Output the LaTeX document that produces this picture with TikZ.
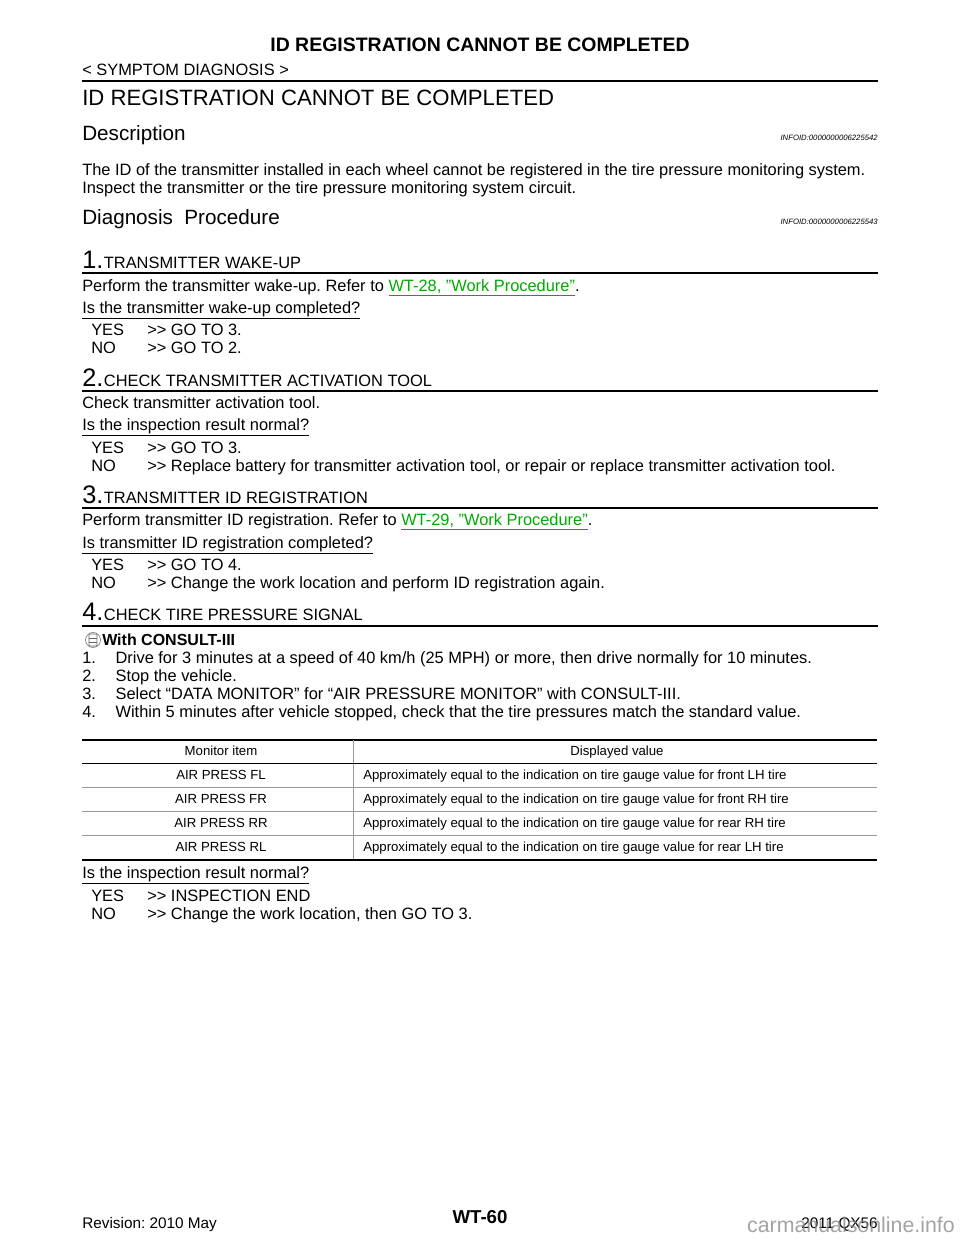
\documentclass[tikz,border=0pt]{standalone}
\usepackage{fontspec}
\setmainfont{Liberation Sans}
\usepackage{xcolor}
\definecolor{lnk}{RGB}{0,170,0}
\frenchspacing
\newcommand{\gtgt}{{>}{>}}
\begin{document}
\begin{tikzpicture}[x=0.75pt,y=-0.75pt,
  txt/.style={anchor=base west,inner sep=0,font=\fontsize{12.3}{14}\selectfont},
  small/.style={anchor=base west,inner sep=0,font=\fontsize{9.9}{11}\selectfont},
  tsmall/.style={anchor=base,inner sep=0,font=\fontsize{9.9}{11}\selectfont},
  head/.style={anchor=base west,inner sep=0,font=\fontsize{15.5}{17}\selectfont},
  stepnum/.style={anchor=base west,inner sep=0,font=\fontsize{19}{20}\selectfont},
  steptitle/.style={anchor=base west,inner sep=0,font=\fontsize{12.3}{14}\selectfont},
  info/.style={anchor=base east,inner sep=0,font=\fontsize{5.8}{6}\selectfont\itshape},
  rule/.style={line width=0.9pt},
  trule/.style={line width=0.4pt,black!40}]
\useasboundingbox (0,0) rectangle (960,1242);
\fill[white] (0,0) rectangle (960,1242);
% header
\node[anchor=base,inner sep=0,font=\fontsize{14.6}{16}\selectfont\bfseries] (ttl) at (480,51) {ID REGISTRATION CANNOT BE COMPLETED};
\node[txt] (sd) at (82,75) {< SYMPTOM DIAGNOSIS >};
\draw[line width=1.4pt] (82,81) -- (878,81);
\node[anchor=base west,inner sep=0,font=\fontsize{16.6}{18}\selectfont] (h1) at (82,105) {ID REGISTRATION CANNOT BE COMPLETED};
\node[head] (desc) at (82,140) {Description};
\node[info] (i1) at (878,140) {INFOID:0000000006225542};
\node[txt] (b1) at (82,175) {The ID of the transmitter installed in each wheel cannot be registered in the tire pressure monitoring system.};
\node[txt] (b2) at (82,193) {Inspect the transmitter or the tire pressure monitoring system circuit.};
\node[head] (diag) at (82,224) {Diagnosis\ \ Procedure};
\node[info] (i2) at (878,224) {INFOID:0000000006225543};
% step 1
\node[stepnum] (n1) at (82,268) {1.};
\node[steptitle] (t1) at (n1.base east) {TRANSMITTER WAKE-UP};
\draw[rule] (82,273) -- (878,273);
\node[txt] (p1) at (82,291) {Perform the transmitter wake-up. Refer to \textcolor{lnk}{\underline{WT-28, "Work Procedure"}}.};
\node[txt] (q1) at (82,313) {\underline{Is the transmitter wake-up completed?}};
\node[txt] (y1) at (91,335) {YES};  \node[txt] (y1r) at (147,335) {\gtgt\ GO TO 3.};
\node[txt] (o1) at (91,353) {NO};   \node[txt] (o1r) at (147,353) {\gtgt\ GO TO 2.};
% step 2
\node[stepnum] (n2) at (82,386) {2.};
\node[steptitle] (t2) at (n2.base east) {CHECK TRANSMITTER ACTIVATION TOOL};
\draw[rule] (82,391) -- (878,391);
\node[txt] (p2) at (82,408) {Check transmitter activation tool.};
\node[txt] (q2) at (82,430) {\underline{Is the inspection result normal?}};
\node[txt] (y2) at (91,453) {YES};  \node[txt] (y2r) at (147,453) {\gtgt\ GO TO 3.};
\node[txt] (o2) at (91,471) {NO};   \node[txt] (o2r) at (147,471) {\gtgt\ Replace battery for transmitter activation tool, or repair or replace transmitter activation tool.};
% step 3
\node[stepnum] (n3) at (82,503) {3.};
\node[steptitle] (t3) at (n3.base east) {TRANSMITTER ID REGISTRATION};
\draw[rule] (82,508) -- (878,508);
\node[txt] (p3) at (82,525) {Perform transmitter ID registration. Refer to \textcolor{lnk}{\underline{WT-29, "Work Procedure"}}.};
\node[txt] (q3) at (82,548) {\underline{Is transmitter ID registration completed?}};
\node[txt] (y3) at (91,570) {YES};  \node[txt] (y3r) at (147,570) {\gtgt\ GO TO 4.};
\node[txt] (o3) at (91,588) {NO};   \node[txt] (o3r) at (147,588) {\gtgt\ Change the work location and perform ID registration again.};
% step 4
\node[stepnum] (n4) at (82,620) {4.};
\node[steptitle] (t4) at (n4.base east) {CHECK TIRE PRESSURE SIGNAL};
\draw[rule] (82,626) -- (878,626);
\draw[black!60,line width=0.4pt] (93,640) circle (7.5);
\draw[black!60,line width=0.4pt,rounded corners=0.5] (89,634) rectangle (97,646);
\draw[black!60,line width=0.4pt] (89,638) -- (97,638) (89,642) -- (97,642);
\node[anchor=base west,inner sep=0,font=\fontsize{12}{14}\selectfont\bfseries] (wc) at (102,645) {With CONSULT-III};
\node[txt] (l1) at (82,663) {1.\hspace{1.2em}Drive for 3 minutes at a speed of 40 km/h (25 MPH) or more, then drive normally for 10 minutes.};
\node[txt] (l2) at (82,681) {2.\hspace{1.2em}Stop the vehicle.};
\node[txt] (l3) at (82,699) {3.\hspace{1.2em}Select “DATA MONITOR” for “AIR PRESSURE MONITOR” with CONSULT-III.};
\node[txt] (l4) at (82,717) {4.\hspace{1.2em}Within 5 minutes after vehicle stopped, check that the tire pressures match the standard value.};
% table
\draw[line width=1.2pt] (82,740) -- (877,740);
\draw[trule] (353,740) -- (353,860);
\draw[line width=0.6pt] (82,763) -- (877,763);
\draw[trule] (82,787) -- (877,787) (82,811) -- (877,811) (82,835) -- (877,835);
\draw[line width=1.2pt] (82,860) -- (877,860);
\node[tsmall] (th1) at (221,755) {Monitor item};
\node[tsmall] (th2) at (617,755) {Displayed value};
\node[tsmall] (r1a) at (221,779) {AIR PRESS FL};
\node[small] (r1b) at (363,779) {Approximately equal to the indication on tire gauge value for front LH tire};
\node[tsmall] (r2a) at (221,803) {AIR PRESS FR};
\node[small] (r2b) at (363,803) {Approximately equal to the indication on tire gauge value for front RH tire};
\node[tsmall] (r3a) at (221,827) {AIR PRESS RR};
\node[small] (r3b) at (363,827) {Approximately equal to the indication on tire gauge value for rear RH tire};
\node[tsmall] (r4a) at (221,851) {AIR PRESS RL};
\node[small] (r4b) at (363,851) {Approximately equal to the indication on tire gauge value for rear LH tire};
\node[txt] (q4) at (82,878) {\underline{Is the inspection result normal?}};
\node[txt] (y4) at (91,901) {YES};  \node[txt] (y4r) at (147,901) {\gtgt\ INSPECTION END};
\node[txt] (o4) at (91,919) {NO};   \node[txt] (o4r) at (147,919) {\gtgt\ Change the work location, then GO TO 3.};
% footer
\node[anchor=base,inner sep=0,font=\fontsize{14}{16}\selectfont\bfseries] (pg) at (480,1223) {WT-60};
\node[anchor=base west,inner sep=0,font=\fontsize{11.5}{13}\selectfont] (rev) at (82,1228) {Revision: 2010 May};
\node[anchor=base east,inner sep=0,font=\fontsize{11.5}{13}\selectfont] (mdl) at (878,1228) {2011 QX56};
\node[anchor=base east,inner sep=0,font=\fontsize{16}{18}\selectfont,text=black!45,opacity=0.8] (wm) at (955,1232) {carmanualsonline.info};
\end{tikzpicture}
\end{document}
